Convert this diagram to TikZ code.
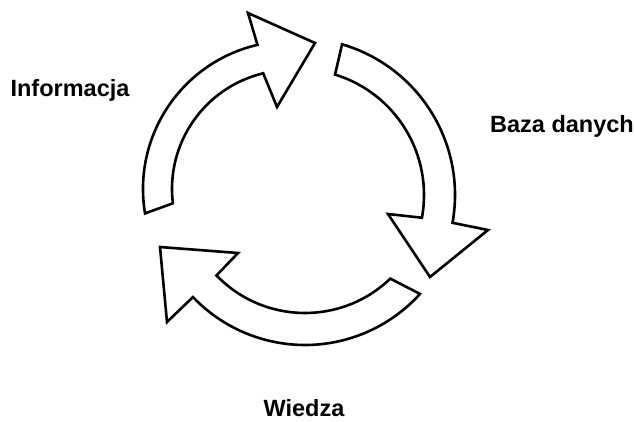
\documentclass[tikz,border=0pt]{standalone}
\usepackage{fontspec}
\setmainfont{Liberation Sans}
\usetikzlibrary{calc}
\begin{document}
\begin{tikzpicture}[x=1pt,y=-1pt,
  arrowshape/.style={draw=black, line width=2.6pt, fill=white, line join=miter},
  lbl/.style={font=\fontsize{23.5}{28}\selectfont\bfseries, inner sep=0pt}]
\useasboundingbox (0,0) rectangle (635,421);
\coordinate (c1) at (291,189);
\coordinate (c2) at (298,195);
\coordinate (c3) at (305,190);
% arrow 1 (left -> top)
\draw[arrowshape] ($(c1)+(170.5:148)$) arc[start angle=170.5, end angle=256.9, radius=148]
  -- (248,13) -- (315,43) -- (277,107)
  -- ($(c1)+(256.5:119)$) arc[start angle=256.5, end angle=173.1, radius=119] -- cycle;
% arrow 2 (top -> right)
\draw[arrowshape] ($(c2)+(-73.7:157)$) arc[start angle=-73.7, end angle=10.2, radius=157]
  -- (488,230) -- (430,277) -- (388,214)
  -- ($(c2)+(10.4:126)$) arc[start angle=10.4, end angle=-72.9, radius=126] -- cycle;
% arrow 3 (right -> bottom-left)
\draw[arrowshape] ($(c3)+(42.1:155)$) arc[start angle=42.1, end angle=136.3, radius=155]
  -- (167,322) -- (160,247) -- (238,253)
  -- ($(c3)+(136:123)$) arc[start angle=136, end angle=46.1, radius=123] -- cycle;
\node[lbl, anchor=base] (info) at (70,96) {Informacja};
\node[lbl, anchor=base east] (baza) at (634,132) {Baza danych};
\node[lbl, anchor=base] (wiedza) at (304,416) {Wiedza};
\end{tikzpicture}
\end{document}
